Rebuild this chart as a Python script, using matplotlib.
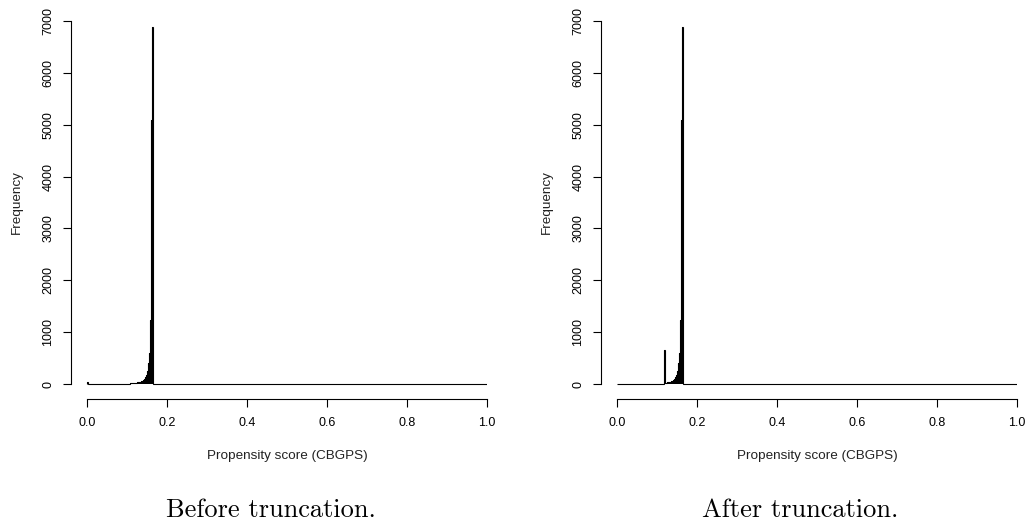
import numpy as np
import matplotlib.pyplot as plt
from matplotlib.transforms import blended_transform_factory

plt.rcParams['font.family'] = ['Liberation Sans', 'DejaVu Sans']

# hist() bins: 400 bins on [0, 1]
bin_edges = np.linspace(0, 1, 401)

# non-empty bins (left edge) and their counts, before truncation
before_scores = [0.0, 0.1075, 0.11, 0.1125, 0.115, 0.1175, 0.12, 0.1225, 0.125, 0.1275,
                 0.13, 0.1325, 0.135, 0.1375, 0.14, 0.1425, 0.145, 0.1475, 0.15,
                 0.1525, 0.155, 0.1575, 0.16, 0.1625]
before_counts = [40, 10, 15, 15, 20, 20, 20, 25, 30, 35,
                 40, 45, 55, 65, 80, 100, 130, 180, 260,
                 400, 590, 1240, 5100, 6880]

# after truncation everything below the cut piles up in one bin
after_scores = [0.1175, 0.12, 0.1225, 0.125, 0.1275,
                0.13, 0.1325, 0.135, 0.1375, 0.14, 0.1425, 0.145, 0.1475, 0.15,
                0.1525, 0.155, 0.1575, 0.16, 0.1625]
after_counts = [650, 20, 25, 30, 35,
                40, 45, 55, 65, 80, 100, 130, 180, 260,
                400, 590, 1240, 5100, 6880]

captions = ["Before truncation.", "After truncation."]
x_ticks = [0.0, 0.2, 0.4, 0.6, 0.8, 1.0]
y_ticks = [0, 1000, 2000, 3000, 4000, 5000, 6000, 7000]

W, H = 1030, 527
fig = plt.figure(figsize=(W / 100, H / 100), dpi=100)

panels = [(before_scores, before_counts, 71, 271),
          (after_scores, after_counts, 601, 800)]

for (scores, counts, left_px, cap_px), caption in zip(panels, captions):
    ax = fig.add_axes([left_px / W, (H - 399) / H, 416 / W, 378 / H])
    # bin counts through numpy, one value per bin
    mids = np.array(scores) + 0.00125
    hist_counts, _ = np.histogram(mids, bins=bin_edges, weights=counts)

    ax.stairs(hist_counts, bin_edges, fill=True, color='black', linewidth=0)
    ax.stairs(hist_counts, bin_edges, color='black', linewidth=0.8)

    ax.set_xlim(-0.04, 1.0)
    ax.set_ylim(-289, 7000)

    for s in ['top', 'right']:
        ax.spines[s].set_visible(False)
    ax.spines['left'].set_bounds(0, 7000)
    ax.spines['bottom'].set_bounds(0, 1)
    ax.spines['left'].set_linewidth(0.8)
    ax.spines['bottom'].set_linewidth(0.8)

    ax.set_xticks(x_ticks)
    ax.set_xticklabels(['%.1f' % t for t in x_ticks])
    ax.set_yticks(y_ticks)
    ax.set_yticklabels([str(t) for t in y_ticks], rotation=90, va='center')
    ax.tick_params(axis='both', length=6, width=0.8, labelsize=9, colors='black')
    ax.tick_params(axis='x', pad=7)
    ax.tick_params(axis='y', pad=6)

    # axis titles placed like R's mtext
    tr = blended_transform_factory(ax.transData, fig.transFigure)
    ax.text(0.5, (H - 456) / H, 'Propensity score (CBGPS)', transform=tr,
            ha='center', va='center', fontsize=9.7, color='#222222')
    tr_y = blended_transform_factory(fig.transFigure, ax.transData)
    ax.text((left_px - 54) / W, 3500, 'Frequency', transform=tr_y, rotation=90,
            ha='center', va='center', fontsize=9.7, color='#222222')

    fig.text(cap_px / W, (H - 517) / H, caption, family='cmr10', fontsize=19,
             ha='center', va='baseline')

fig.savefig('out.png', dpi=100)
